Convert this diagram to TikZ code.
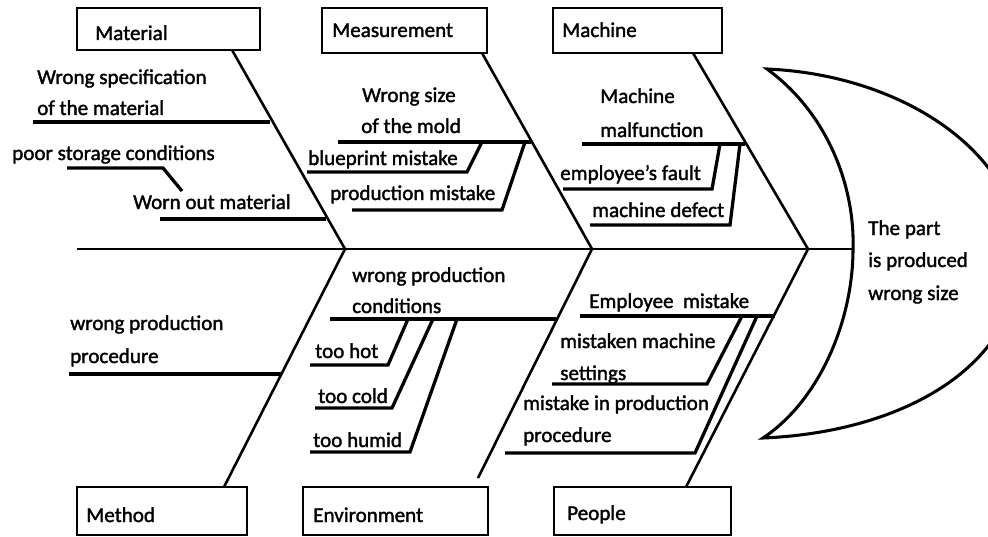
\documentclass[tikz,border=0pt]{standalone}
\usepackage{fontspec}
\setmainfont{Carlito}[FakeBold=1.6]
\begin{document}
\begin{tikzpicture}[x=0.03cm,y=-0.03cm,
  catbox/.style={draw,line width=1.8pt,inner sep=0pt},
  lbl/.style={anchor=base west,inner sep=0pt,font=\fontsize{18}{21}\selectfont},
  bone/.style={line width=2.2pt},
  uline/.style={line width=2.8pt,line join=miter},
  head/.style={line width=2.6pt}]
\useasboundingbox (0,0) rectangle (988,536);
% category boxes
\node[catbox,minimum width=5.49cm,minimum height=1.26cm] (mat) at (168.5,29) {};
\node[catbox,minimum width=4.95cm,minimum height=1.35cm] (mea) at (404.5,30.5) {};
\node[catbox,minimum width=5.07cm,minimum height=1.35cm] (mac) at (637.5,30.5) {};
\node[catbox,minimum width=5.10cm,minimum height=1.44cm] (met) at (162,511) {};
\node[catbox,minimum width=5.55cm,minimum height=1.44cm] (env) at (395.5,511) {};
\node[catbox,minimum width=5.31cm,minimum height=1.44cm] (peo) at (642.5,511) {};
\node[lbl] (matT) at (95,40) {Material};
\node[lbl] (meaT) at (332,37) {Measurement};
\node[lbl] (macT) at (562,37) {Machine};
\node[lbl] (metT) at (86,522) {Method};
\node[lbl] (envT) at (313,522) {Environment};
\node[lbl] (peoT) at (567,520) {People};
% spine and junctions
\coordinate (S) at (77,249);
\coordinate (J1) at (345,249);
\coordinate (J2) at (592,249);
\coordinate (J3) at (808,249);
\coordinate (H) at (853,249);
\draw[bone] (S) -- (H);
% main bones
\coordinate (matB) at (232,50);
\coordinate (meaB) at (482,53);
\coordinate (macB) at (693,53);
\coordinate (metB) at (224,487);
\coordinate (envB) at (478,478);
\coordinate (peoB) at (686,487);
\draw[bone] (matB) -- (J1) -- (metB);
\draw[bone] (meaB) -- (J2) -- (envB);
\draw[bone] (macB) -- (J3) -- (peoB);
% head (crescent)
\coordinate (T) at (767,69);
\coordinate (B) at (763,438);
\coordinate (R) at (1020,255);
\draw[head,line join=miter] (T) .. controls (830,115) and (855,190) .. (H)
  .. controls (853,320) and (820,400) .. (B)
  .. controls (905,432) and (1020,365) .. (R)
  .. controls (1020,155) and (905,75) .. (T) -- cycle;
\node[lbl] (eff1) at (868,235) {The part};
\node[lbl] (eff2) at (868,267) {is produced};
\node[lbl] (eff3) at (868,300) {wrong size};
% Material causes
\node[lbl] (m1a) at (37,84) {Wrong specification};
\node[lbl] (m1b) at (37,115) {of the material};
\draw[uline] (33,122) -- (270,122);
\node[lbl] (m2) at (12,160) {poor storage conditions};
\draw[uline] (67,168) -- (163,168) -- (182,191);
\node[lbl] (m3) at (133,209) {Worn out material};
\draw[uline] (160,219) -- (326,219);
% Measurement causes
\node[lbl] (s1a) at (362,102) {Wrong size};
\node[lbl] (s1b) at (361,133) {of the mold};
\draw[uline] (338,142) -- (531,142);
\node[lbl] (s2) at (308,165) {blueprint mistake};
\draw[uline] (307,172) -- (467,172) -- (482,142);
\node[lbl] (s3) at (330,200) {production mistake};
\draw[uline] (352,210) -- (502,210) -- (525,142);
% Machine causes
\node[lbl] (c1a) at (600,103) {Machine};
\node[lbl] (c1b) at (600,137) {malfunction};
\draw[uline] (582,144) -- (745,144);
\node[lbl] (c2) at (560,180) {employee{\char"0027}s fault};
\draw[uline] (563,189) -- (712,189) -- (720,144);
\node[lbl] (c3) at (592,217) {machine defect};
\draw[uline] (590,225) -- (730,225) -- (740,144);
% Method causes
\node[lbl] (d1a) at (70,330) {wrong production};
\node[lbl] (d1b) at (70,363) {procedure};
\draw[uline] (69,374) -- (282,374);
% Environment causes
\node[lbl] (e1a) at (352,282) {wrong production};
\node[lbl] (e1b) at (352,313) {conditions};
\draw[uline] (330,319) -- (556,319);
\node[lbl] (e2) at (315,358) {too hot};
\draw[uline] (310,365) -- (388,365) -- (408,319);
\node[lbl] (e3) at (318,403) {too cold};
\draw[uline] (315,408) -- (392,408) -- (433,319);
\node[lbl] (e4) at (313,447) {too humid};
\draw[uline] (310,452) -- (410,452) -- (457,319);
% People causes
\node[lbl] (p1) at (589,308) {Employee~ mistake};
\draw[uline] (580,316) -- (775,316);
\node[lbl] (p2a) at (560,348) {mistaken machine};
\node[lbl] (p2b) at (560,380) {settings};
\draw[uline] (552,384) -- (707,384) -- (742,316);
\node[lbl] (p3a) at (523,410) {mistake in production};
\node[lbl] (p3b) at (523,442) {procedure};
\draw[uline] (505,453) -- (695,453) -- (757,316);
\end{tikzpicture}
\end{document}
